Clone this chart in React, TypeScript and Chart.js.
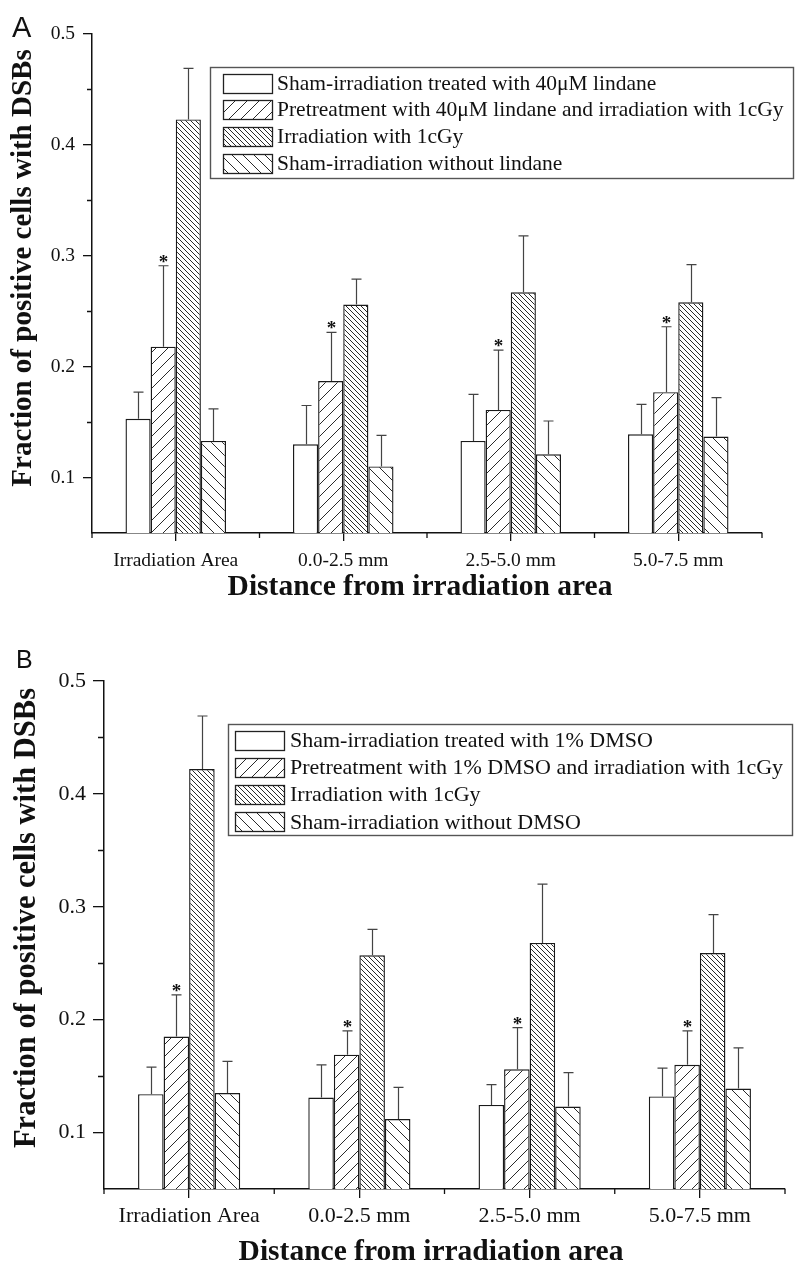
import React, { useEffect, useRef } from 'react';
import { Chart, registerables } from 'chart.js';

Chart.register(...registerables);

// ---------------- data ----------------
const CATEGORIES = ['Irradiation Area', '0.0-2.5 mm', '2.5-5.0 mm', '5.0-7.5 mm'];
const Y_MIN = 0.05;
const Y_MAX = 0.5;
const Y_TICKS = [0.1, 0.2, 0.3, 0.4, 0.5];
const Y_MINOR = [0.15, 0.25, 0.35, 0.45];

// Panel A (lindane)
const A_LEGEND = [
  'Sham-irradiation treated with 40\u03bcM lindane',
  'Pretreatment with 40\u03bcM lindane and irradiation with 1cGy',
  'Irradiation with 1cGy',
  'Sham-irradiation without lindane',
];
const A_SHAM_TREATED = [0.153, 0.130, 0.133, 0.139];
const A_SHAM_TREATED_SD = [0.024, 0.035, 0.042, 0.027];
const A_PRETREAT = [0.218, 0.187, 0.161, 0.177];
const A_PRETREAT_SD = [0.073, 0.044, 0.054, 0.059];
const A_IRRADIATION = [0.423, 0.256, 0.267, 0.258];
const A_IRRADIATION_SD = [0.046, 0.023, 0.051, 0.034];
const A_SHAM_UNTREATED = [0.133, 0.110, 0.121, 0.137];
const A_SHAM_UNTREATED_SD = [0.029, 0.028, 0.030, 0.035];

// Panel B (DMSO)
const B_LEGEND = [
  'Sham-irradiation treated with 1% DMSO',
  'Pretreatment with 1% DMSO and irradiation with 1cGy',
  'Irradiation with 1cGy',
  'Sham-irradiation without DMSO',
];
const B_SHAM_TREATED = [0.134, 0.131, 0.1245, 0.132];
const B_SHAM_TREATED_SD = [0.024, 0.029, 0.018, 0.025];
const B_PRETREAT = [0.185, 0.169, 0.156, 0.160];
const B_PRETREAT_SD = [0.037, 0.021, 0.037, 0.030];
const B_IRRADIATION = [0.422, 0.257, 0.268, 0.259];
const B_IRRADIATION_SD = [0.047, 0.023, 0.052, 0.034];
const B_SHAM_UNTREATED = [0.135, 0.112, 0.123, 0.139];
const B_SHAM_UNTREATED_SD = [0.028, 0.028, 0.030, 0.036];

const STAR_FLAGS = [true, true, true, true]; // significance stars on pretreatment bars

const Y_TITLE = 'Fraction of positive cells with DSBs';
const X_TITLE = 'Distance from irradiation area';

// ---------------- styling ----------------
const SERIF = "'Liberation Serif', 'Times New Roman', Times, serif";
const SANS = "'Liberation Sans', Arial, Helvetica, sans-serif";
const INK = '#111';
const W = 796;

function makeHatch(size: number, dir: 'f' | 'b', lw: number): CanvasPattern | string {
  const c = document.createElement('canvas');
  c.width = size;
  c.height = size;
  const g = c.getContext('2d');
  if (!g) return '#fff';
  g.fillStyle = '#fff';
  g.fillRect(0, 0, size, size);
  g.strokeStyle = '#2a2a2a';
  g.lineWidth = lw;
  g.beginPath();
  if (dir === 'f') {
    g.moveTo(-1, size + 1); g.lineTo(size + 1, -1);
    g.moveTo(-1, 1); g.lineTo(1, -1);
    g.moveTo(size - 1, size + 1); g.lineTo(size + 1, size - 1);
  } else {
    g.moveTo(-1, -1); g.lineTo(size + 1, size + 1);
    g.moveTo(size - 1, -1); g.lineTo(size + 1, 1);
    g.moveTo(-1, size - 1); g.lineTo(1, size + 1);
  }
  g.stroke();
  return g.createPattern(c, 'repeat') || '#fff';
}

type PanelCfg = {
  height: number;
  area: { left: number; top: number; right: number; bottom: number };
  tickFont: number;
  xLabelPad: number;
  yLabelPad: number;
  yTickLen: number;
  yMinorLen: number;
  xTickLen: number;
  xMinorLen: number;
  letter: string;
  letterX: number;
  letterY: number;
  letterSize: number;
  legend: { x: number; y: number; w: number; h: number; row0: number; step: number; swX: number; swW: number; swH: number; textX: number; font: number };
  legendLabels: string[];
  yTitle: { x: number; y: number; size: number };
  xTitle: { x: number; y: number; size: number };
  series: number[][];
  sds: number[][];
};

const PANEL_A: PanelCfg = {
  height: 633,
  area: { left: 92, top: 34, right: 762, bottom: 533 },
  tickFont: 19.5,
  xLabelPad: 8,
  yLabelPad: 8,
  yTickLen: 9,
  yMinorLen: 5,
  xTickLen: 8,
  xMinorLen: 5,
  letter: 'A',
  letterX: 12,
  letterY: 37,
  letterSize: 29,
  legend: { x: 210, y: 67, w: 583, h: 111, row0: 83, step: 26.7, swX: 223, swW: 49, swH: 19, textX: 277, font: 21.5 },
  legendLabels: A_LEGEND,
  yTitle: { x: 24, y: 268, size: 29 },
  xTitle: { x: 420, y: 587, size: 29.5 },
  series: [A_SHAM_TREATED, A_PRETREAT, A_IRRADIATION, A_SHAM_UNTREATED],
  sds: [A_SHAM_TREATED_SD, A_PRETREAT_SD, A_IRRADIATION_SD, A_SHAM_UNTREATED_SD],
};

const PANEL_B: PanelCfg = {
  height: 634,
  area: { left: 104, top: 48, right: 785, bottom: 556 },
  tickFont: 22,
  xLabelPad: 5,
  yLabelPad: 7,
  yTickLen: 11,
  yMinorLen: 6,
  xTickLen: 9,
  xMinorLen: 5,
  letter: 'B',
  letterX: 16,
  letterY: 35,
  letterSize: 25,
  legend: { x: 228, y: 91, w: 564, h: 111, row0: 107, step: 27.3, swX: 235, swW: 49, swH: 19, textX: 290, font: 22 },
  legendLabels: B_LEGEND,
  yTitle: { x: 27, y: 285, size: 30.5 },
  xTitle: { x: 431, y: 619, size: 29.5 },
  series: [B_SHAM_TREATED, B_PRETREAT, B_IRRADIATION, B_SHAM_UNTREATED],
  sds: [B_SHAM_TREATED_SD, B_PRETREAT_SD, B_IRRADIATION_SD, B_SHAM_UNTREATED_SD],
};

function buildChart(canvas: HTMLCanvasElement, cfg: PanelCfg): Chart {
  const fills: (CanvasPattern | string)[] = [
    '#ffffff',
    makeHatch(12, 'f', 1),
    makeHatch(5, 'b', 1),
    makeHatch(11, 'b', 1),
  ];

  const overlay = {
    id: 'overlay' + cfg.letter,
    afterDraw(chart: any) {
      const ctx: CanvasRenderingContext2D = chart.ctx;
      const area = chart.chartArea;
      const ys = chart.scales.y;
      const xs = chart.scales.x;
      ctx.save();
      ctx.strokeStyle = INK;
      ctx.lineWidth = 1.3;
      // minor y ticks
      ctx.beginPath();
      Y_MINOR.forEach((v) => {
        const py = Math.round(ys.getPixelForValue(v)) + 0.5;
        ctx.moveTo(area.left - cfg.yMinorLen, py);
        ctx.lineTo(area.left, py);
      });
      // minor x ticks at category boundaries
      const n = CATEGORIES.length;
      for (let i = 0; i <= n; i++) {
        let px: number;
        if (i === 0) px = area.left;
        else if (i === n) px = area.right;
        else px = (xs.getPixelForValue(i - 1) + xs.getPixelForValue(i)) / 2;
        ctx.moveTo(px, area.bottom);
        ctx.lineTo(px, area.bottom + cfg.xMinorLen);
      }
      ctx.stroke();

      // error bars
      ctx.strokeStyle = '#444';
      ctx.lineWidth = 1.2;
      cfg.series.forEach((vals, di) => {
        const meta = chart.getDatasetMeta(di);
        meta.data.forEach((bar: any, j: number) => {
          const topPx = ys.getPixelForValue(vals[j] + cfg.sds[di][j]);
          const bx = Math.round(bar.x) + 0.5;
          ctx.beginPath();
          ctx.moveTo(bx, bar.y);
          ctx.lineTo(bx, topPx);
          ctx.moveTo(bx - 5, topPx);
          ctx.lineTo(bx + 5, topPx);
          ctx.stroke();
          if (di === 1 && STAR_FLAGS[j]) {
            ctx.fillStyle = INK;
            ctx.font = `bold 19px ${SERIF}`;
            ctx.textAlign = 'center';
            ctx.textBaseline = 'alphabetic';
            ctx.fillText('*', bx, topPx + 2);
          }
        });
      });

      // legend
      const L = cfg.legend;
      ctx.strokeStyle = '#555';
      ctx.lineWidth = 1.4;
      ctx.fillStyle = '#fff';
      ctx.fillRect(L.x, L.y, L.w, L.h);
      ctx.strokeRect(L.x + 0.5, L.y + 0.5, L.w, L.h);
      cfg.legendLabels.forEach((lab, i) => {
        const cy = L.row0 + i * L.step;
        const sy = Math.round(cy - L.swH / 2) + 0.5;
        ctx.fillStyle = fills[i] as any;
        ctx.fillRect(L.swX, sy, L.swW, L.swH);
        ctx.strokeStyle = '#222';
        ctx.lineWidth = 1.3;
        ctx.strokeRect(L.swX + 0.5, sy, L.swW, L.swH);
        ctx.fillStyle = INK;
        ctx.font = `${L.font}px ${SERIF}`;
        ctx.textAlign = 'left';
        ctx.textBaseline = 'middle';
        ctx.fillText(lab, L.textX, cy + 1);
      });

      // panel letter
      ctx.fillStyle = INK;
      ctx.font = `${cfg.letterSize}px ${SANS}`;
      ctx.textAlign = 'left';
      ctx.textBaseline = 'alphabetic';
      ctx.fillText(cfg.letter, cfg.letterX, cfg.letterY);

      // axis titles
      ctx.font = `bold ${cfg.xTitle.size}px ${SERIF}`;
      ctx.textAlign = 'center';
      ctx.textBaseline = 'middle';
      ctx.fillText(X_TITLE, cfg.xTitle.x, cfg.xTitle.y);

      ctx.save();
      ctx.translate(cfg.yTitle.x, cfg.yTitle.y);
      ctx.rotate(-Math.PI / 2);
      ctx.font = `bold ${cfg.yTitle.size}px ${SERIF}`;
      ctx.textAlign = 'center';
      ctx.textBaseline = 'middle';
      ctx.fillText(Y_TITLE, 0, 0);
      ctx.restore();

      ctx.restore();
    },
  };

  return new Chart(canvas, {
    type: 'bar',
    data: {
      labels: CATEGORIES,
      datasets: cfg.series.map((d, i) => ({
        label: cfg.legendLabels[i],
        data: d,
        backgroundColor: fills[i] as any,
        borderColor: '#1a1a1a',
        borderWidth: 1.4,
        barPercentage: 1,
        categoryPercentage: 0.6,
      })),
    },
    options: {
      responsive: false,
      animation: false,
      devicePixelRatio: 1,
      layout: { padding: { left: 0, top: cfg.area.top, right: W - cfg.area.right, bottom: 0 } },
      plugins: { legend: { display: false }, tooltip: { enabled: false }, title: { display: false } },
      scales: {
        x: {
          type: 'category',
          offset: true,
          grid: { display: true, drawOnChartArea: false, drawTicks: true, tickLength: cfg.xTickLen, offset: false, color: INK, lineWidth: 1.3 },
          border: { display: true, color: INK, width: 1.5 },
          ticks: { font: { family: SERIF, size: cfg.tickFont }, color: INK, padding: cfg.xLabelPad, maxRotation: 0, autoSkip: false },
          afterFit: (s: any) => { s.height = cfg.height - cfg.area.bottom; },
        },
        y: {
          type: 'linear',
          min: Y_MIN,
          max: Y_MAX,
          afterBuildTicks: (s: any) => { s.ticks = Y_TICKS.map((v) => ({ value: v })); },
          grid: { display: true, drawOnChartArea: false, drawTicks: true, tickLength: cfg.yTickLen, color: INK, lineWidth: 1.3 },
          border: { display: true, color: INK, width: 1.5 },
          ticks: { font: { family: SERIF, size: cfg.tickFont }, color: INK, padding: cfg.yLabelPad, callback: (v: any) => Number(v).toFixed(1) },
          afterFit: (s: any) => { s.width = cfg.area.left; },
        },
      },
    } as any,
    plugins: [overlay],
  });
}

function Panel({ cfg, top }: { cfg: PanelCfg; top: number }) {
  const ref = useRef<HTMLCanvasElement | null>(null);
  useEffect(() => {
    if (!ref.current) return;
    const chart = buildChart(ref.current, cfg);
    return () => chart.destroy();
  }, [cfg]);
  return (
    <canvas
      ref={ref}
      width={W}
      height={cfg.height}
      style={{ position: 'absolute', left: 0, top, width: W, height: cfg.height, display: 'block' }}
    />
  );
}

export default function App() {
  useEffect(() => {
    document.body.style.margin = '0';
    document.body.style.background = '#fff';
  }, []);
  return (
    <div style={{ position: 'relative', width: W, height: 1267, background: '#fff', overflow: 'hidden' }}>
      <Panel cfg={PANEL_A} top={0} />
      <Panel cfg={PANEL_B} top={633} />
    </div>
  );
}
